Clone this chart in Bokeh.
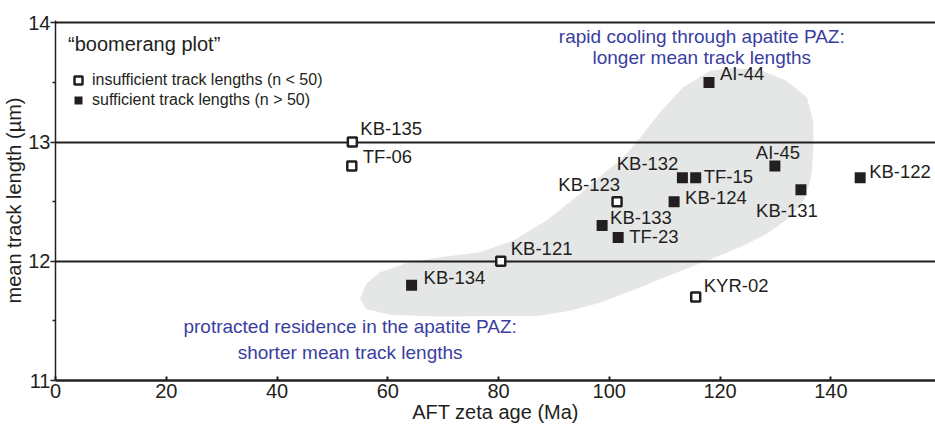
from bokeh.plotting import figure
from bokeh.models import Range1d, FixedTicker, Legend, LegendItem
from bokeh.core.properties import value
from bokeh.embed import file_html
from bokeh.resources import INLINE

# ---------------- data ----------------
samples = ["KB-135", "TF-06", "AI-44", "KB-123", "KB-132", "TF-15", "AI-45", "KB-131",
           "KB-124", "KB-133", "TF-23", "KB-121", "KB-134", "KYR-02", "KB-122"]
zeta_age = [53.6, 53.5, 118.0, 101.4, 113.2, 115.6, 129.9, 134.6,
            111.7, 98.7, 101.6, 80.4, 64.3, 115.6, 145.3]
track_len = [13.0, 12.8, 13.5, 12.5, 12.7, 12.7, 12.8, 12.6,
             12.5, 12.3, 12.2, 12.0, 11.8, 11.7, 12.7]
sufficient = [False, False, True, False, True, True, True, True,
              True, True, True, False, True, False, True]

x_ticks = [0, 20, 40, 60, 80, 100, 120, 140]
y_ticks = [11, 12, 13, 14]
y_minor = [11.5, 12.5, 13.5]
ref_lines = [12, 13, 14]

# outline of the shaded "boomerang" field
blob_x = [55.0, 56.1, 58.5, 63.3, 69.3, 76.6, 82.6, 88.6, 94.7, 99.5, 101.9, 104.9,
          109.4, 113.3, 118.2, 122.3, 127.2, 132.0, 135.7, 136.8, 136.9, 136.6,
          136.3, 135.1, 132.6, 128.4, 123.6, 117.6, 111.5, 105.5, 98.3, 92.9,
          87.4, 69.3, 60.3, 56.1]
blob_y = [11.684, 11.810, 11.907, 11.983, 12.033, 12.075, 12.173, 12.341, 12.564,
          12.759, 12.843, 12.997, 13.262, 13.458, 13.598, 13.620, 13.606, 13.514,
          13.374, 13.179, 12.997, 12.759, 12.676, 12.508, 12.368, 12.229, 12.117,
          12.005, 11.894, 11.781, 11.653, 11.586, 11.544, 11.536, 11.552, 11.600]

# label placement (screen px offsets, alignment) -- styling, not data
label_style = {
    "KB-135": (8, -14, "left"), "TF-06": (11, -9, "left"), "AI-44": (11, -9, "left"),
    "KB-123": (3, -17, "right"), "KB-132": (-4, -14, "right"), "TF-15": (8, -1, "left"),
    "AI-45": (3, -13, "center"), "KB-131": (-14, 21, "center"), "KB-124": (11, -4, "left"),
    "KB-133": (8, -8, "left"), "TF-23": (11, -1, "left"), "KB-121": (10, -13, "left"),
    "KB-134": (12, -8, "left"), "KYR-02": (8, -12, "left"), "KB-122": (9, -6, "left"),
}

BLACK = "#231f20"
BLUE = "#3a3e9f"
FONT = "Liberation Sans"

p = figure(width=935, height=428, x_range=Range1d(0, 158.9), y_range=Range1d(11, 14.02),
           output_backend="svg", toolbar_location=None,
           min_border_left=40, min_border_right=0, min_border_top=20, min_border_bottom=48)
p.outline_line_color = None
p.background_fill_color = "white"
p.xgrid.visible = False
p.ygrid.visible = False

# shaded field
p.patch(blob_x, blob_y, fill_color="#e5e6e6", line_color=None)

# horizontal reference lines
p.hspan(y=ref_lines, line_color=BLACK, line_width=2)

# points
fx = [a for a, s in zip(zeta_age, sufficient) if s]
fy = [b for b, s in zip(track_len, sufficient) if s]
ox = [a for a, s in zip(zeta_age, sufficient) if not s]
oy = [b for b, s in zip(track_len, sufficient) if not s]
r_open = p.scatter(ox, oy, marker="square", size=9, fill_color="white",
                   line_color=BLACK, line_width=2.5)
r_fill = p.scatter(fx, fy, marker="square", size=11, fill_color=BLACK, line_color=None)

# sample labels
for align in ["left", "right", "center"]:
    idx = [i for i, s in enumerate(samples) if label_style[s][2] == align]
    p.text(x=[zeta_age[i] for i in idx], y=[track_len[i] for i in idx],
           text=[samples[i] for i in idx],
           x_offset=[label_style[samples[i]][0] for i in idx],
           y_offset=[label_style[samples[i]][1] for i in idx],
           text_align=align, text_baseline="middle", text_font=value(FONT),
           text_font_size="18.5px", text_color=BLACK)

# blue annotations
p.text(x=[116.7, 116.7], y=[13.883, 13.707],
       text=["rapid cooling through apatite PAZ:", "longer mean track lengths"],
       text_align="center", text_baseline="middle", text_font=value(FONT),
       text_font_size="19px", text_color=BLUE)
p.text(x=[53.2, 53.2], y=[11.452, 11.234],
       text=["protracted residence in the apatite PAZ:", "shorter mean track lengths"],
       text_align="center", text_baseline="middle", text_font=value(FONT),
       text_font_size="19px", text_color=BLUE)

# legend
legend = Legend(items=[LegendItem(label="insufficient track lengths (n < 50)", renderers=[r_open]),
                       LegendItem(label="sufficient track lengths (n > 50)", renderers=[r_fill])],
                location="top_left", margin=13, padding=0, spacing=0,
                glyph_width=20, glyph_height=20, label_standoff=4,
                label_text_font=FONT, label_text_font_size="16px", label_text_color=BLACK,
                title="\u201cboomerang plot\u201d", title_text_font=FONT,
                title_text_font_size="20px", title_text_font_style="normal",
                title_text_color=BLACK, title_standoff=14,
                background_fill_alpha=0, border_line_color=None)
p.add_layout(legend)

# axes
xa = p.xaxis[0]
xa.ticker = FixedTicker(ticks=x_ticks, minor_ticks=[])
xa.axis_line_color = BLACK
xa.axis_line_width = 2.5
xa.major_tick_in = 4
xa.major_tick_out = 0
xa.major_tick_line_color = BLACK
xa.major_tick_line_width = 2
xa.major_label_text_font = FONT
xa.major_label_text_font_size = "20px"
xa.major_label_text_color = BLACK
xa.major_label_standoff = 3
xa.axis_label = "AFT zeta age (Ma)"
xa.axis_label_text_font = FONT
xa.axis_label_text_font_size = "20px"
xa.axis_label_text_font_style = "normal"
xa.axis_label_text_color = BLACK
xa.axis_label_standoff = 0

ya = p.yaxis[0]
ya.ticker = FixedTicker(ticks=y_ticks, minor_ticks=y_minor)
ya.axis_line_color = BLACK
ya.axis_line_width = 1.5
ya.major_tick_in = 0
ya.major_tick_out = 5
ya.minor_tick_in = 0
ya.minor_tick_out = 3
ya.major_tick_line_color = BLACK
ya.minor_tick_line_color = BLACK
ya.major_tick_line_width = 1.5
ya.minor_tick_line_width = 1.5
ya.major_label_text_font = FONT
ya.major_label_text_font_size = "20px"
ya.major_label_text_color = BLACK
ya.major_label_standoff = 0
ya.axis_label = "mean track length (\u00b5m)"
ya.axis_label_text_font = FONT
ya.axis_label_text_font_size = "20px"
ya.axis_label_text_font_style = "normal"
ya.axis_label_text_color = BLACK
ya.axis_label_standoff = 0

open("out.html", "w").write(file_html(p, INLINE))
